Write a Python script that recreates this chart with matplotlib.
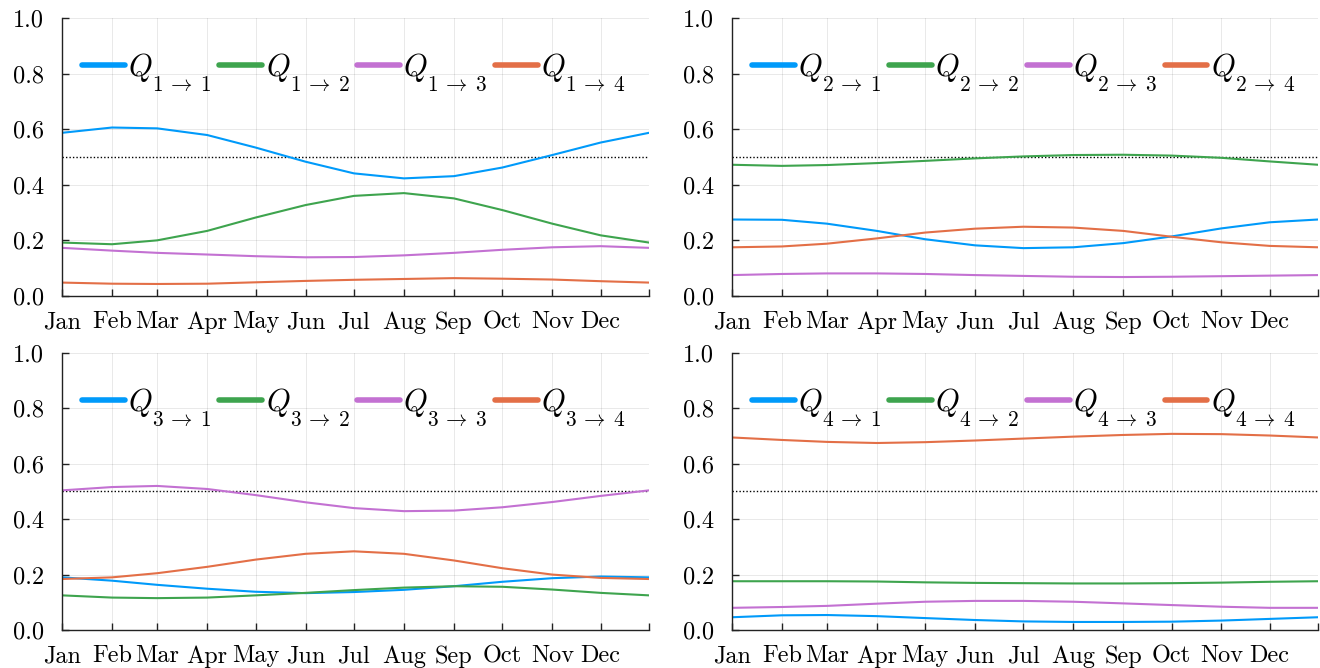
import matplotlib
matplotlib.use("Agg")
from matplotlib import pyplot as plt
from matplotlib import _mathtext

plt.rcParams['mathtext.fontset'] = 'cm'
plt.rcParams['axes.formatter.use_mathtext'] = True
# push subscripts lower, like the LaTeX legend in the original
_mathtext.ComputerModernFontConstants.sub1 = 0.6

# day-of-year at each month start, plus year end
days = [1, 32, 60, 91, 121, 152, 182, 213, 244, 274, 305, 335, 365]
month_labels = ['Jan', 'Feb', 'Mar', 'Apr', 'May', 'Jun', 'Jul', 'Aug', 'Sep', 'Oct', 'Nov', 'Dec', '']

# transition probabilities (one value per month start)
q11 = [0.587, 0.606, 0.603, 0.579, 0.534, 0.483, 0.441, 0.423, 0.431, 0.462, 0.507, 0.552, 0.587]
q12 = [0.192, 0.186, 0.200, 0.234, 0.282, 0.327, 0.360, 0.370, 0.351, 0.309, 0.260, 0.218, 0.192]
q13 = [0.173, 0.163, 0.155, 0.149, 0.143, 0.139, 0.140, 0.146, 0.155, 0.166, 0.175, 0.179, 0.173]
q14 = [0.048, 0.044, 0.043, 0.044, 0.049, 0.054, 0.058, 0.061, 0.064, 0.062, 0.059, 0.053, 0.048]

q21 = [0.275, 0.274, 0.260, 0.234, 0.204, 0.182, 0.172, 0.175, 0.190, 0.214, 0.243, 0.265, 0.275]
q22 = [0.472, 0.468, 0.471, 0.478, 0.486, 0.495, 0.502, 0.507, 0.508, 0.505, 0.497, 0.484, 0.472]
q23 = [0.075, 0.079, 0.081, 0.081, 0.079, 0.075, 0.072, 0.069, 0.068, 0.069, 0.071, 0.073, 0.075]
q24 = [0.175, 0.178, 0.188, 0.207, 0.228, 0.242, 0.249, 0.246, 0.234, 0.213, 0.193, 0.180, 0.175]

q31 = [0.190, 0.178, 0.163, 0.149, 0.138, 0.133, 0.137, 0.145, 0.158, 0.174, 0.187, 0.193, 0.190]
q32 = [0.125, 0.117, 0.115, 0.117, 0.125, 0.134, 0.144, 0.153, 0.158, 0.156, 0.146, 0.134, 0.125]
q33 = [0.504, 0.516, 0.520, 0.509, 0.487, 0.461, 0.440, 0.429, 0.431, 0.443, 0.462, 0.484, 0.504]
q34 = [0.184, 0.190, 0.205, 0.228, 0.254, 0.275, 0.284, 0.275, 0.251, 0.223, 0.200, 0.188, 0.184]

q41 = [0.046, 0.053, 0.054, 0.050, 0.043, 0.036, 0.031, 0.029, 0.029, 0.030, 0.034, 0.040, 0.046]
q42 = [0.176, 0.176, 0.176, 0.175, 0.172, 0.170, 0.169, 0.168, 0.168, 0.169, 0.171, 0.174, 0.176]
q43 = [0.080, 0.083, 0.087, 0.095, 0.102, 0.105, 0.105, 0.102, 0.096, 0.090, 0.084, 0.080, 0.080]
q44 = [0.695, 0.686, 0.679, 0.675, 0.678, 0.684, 0.691, 0.698, 0.704, 0.708, 0.707, 0.702, 0.695]

rows = [[q11, q12, q13, q14], [q21, q22, q23, q24], [q31, q32, q33, q34], [q41, q42, q43, q44]]
colors = ['#009AFA', '#3EA44E', '#C371D2', '#E36F47']

fig = plt.figure(figsize=(13.2, 6.68), dpi=100)
boxes = [(0.047, 0.557, 0.4447, 0.416), (0.5545, 0.557, 0.444, 0.416),
         (0.047, 0.0569, 0.4447, 0.4147), (0.5545, 0.0569, 0.444, 0.4147)]

for i, (series, box) in enumerate(zip(rows, boxes)):
    ax = fig.add_axes(box)
    src = i + 1
    for j, (vals, c) in enumerate(zip(series, colors)):
        ax.plot(days, vals, color=c, lw=1.5,
                label=r'$Q_{%d\:\rightarrow\:%d}$' % (src, j + 1))
    ax.axhline(0.5, color='black', lw=1.0, ls=(0, (1, 1.5)), zorder=1)
    ax.set_xlim(1, 365)
    ax.set_ylim(0, 1)
    ax.set_xticks(days)
    ax.set_xticklabels(month_labels, fontfamily='cmr10', fontsize=17.5)
    ax.set_yticks([0, 0.2, 0.4, 0.6, 0.8, 1.0])
    ax.set_yticklabels(['0.0', '0.2', '0.4', '0.6', '0.8', '1.0'], fontfamily='cmr10', fontsize=17.5)
    ax.tick_params(direction='in', length=5, width=1, color='#222222')
    ax.tick_params(axis='x', pad=11)
    ax.tick_params(axis='y', pad=13)
    ax.grid(True, color='black', alpha=0.1, lw=0.6)
    ax.set_axisbelow(True)
    for s in ['top', 'right']:
        ax.spines[s].set_visible(False)
    for s in ['left', 'bottom']:
        ax.spines[s].set_linewidth(1.0)
        ax.spines[s].set_color('#222222')
    leg = ax.legend(loc='center left', bbox_to_anchor=(0.034, 0.805), ncol=4, frameon=False,
                    fontsize=22, handlelength=1.4, handletextpad=0.12, columnspacing=0.25,
                    borderaxespad=0, borderpad=0)
    for h in leg.get_lines():
        h.set_linewidth(4)
        h.set_solid_capstyle('round')

fig.savefig('out.png', dpi=100)
